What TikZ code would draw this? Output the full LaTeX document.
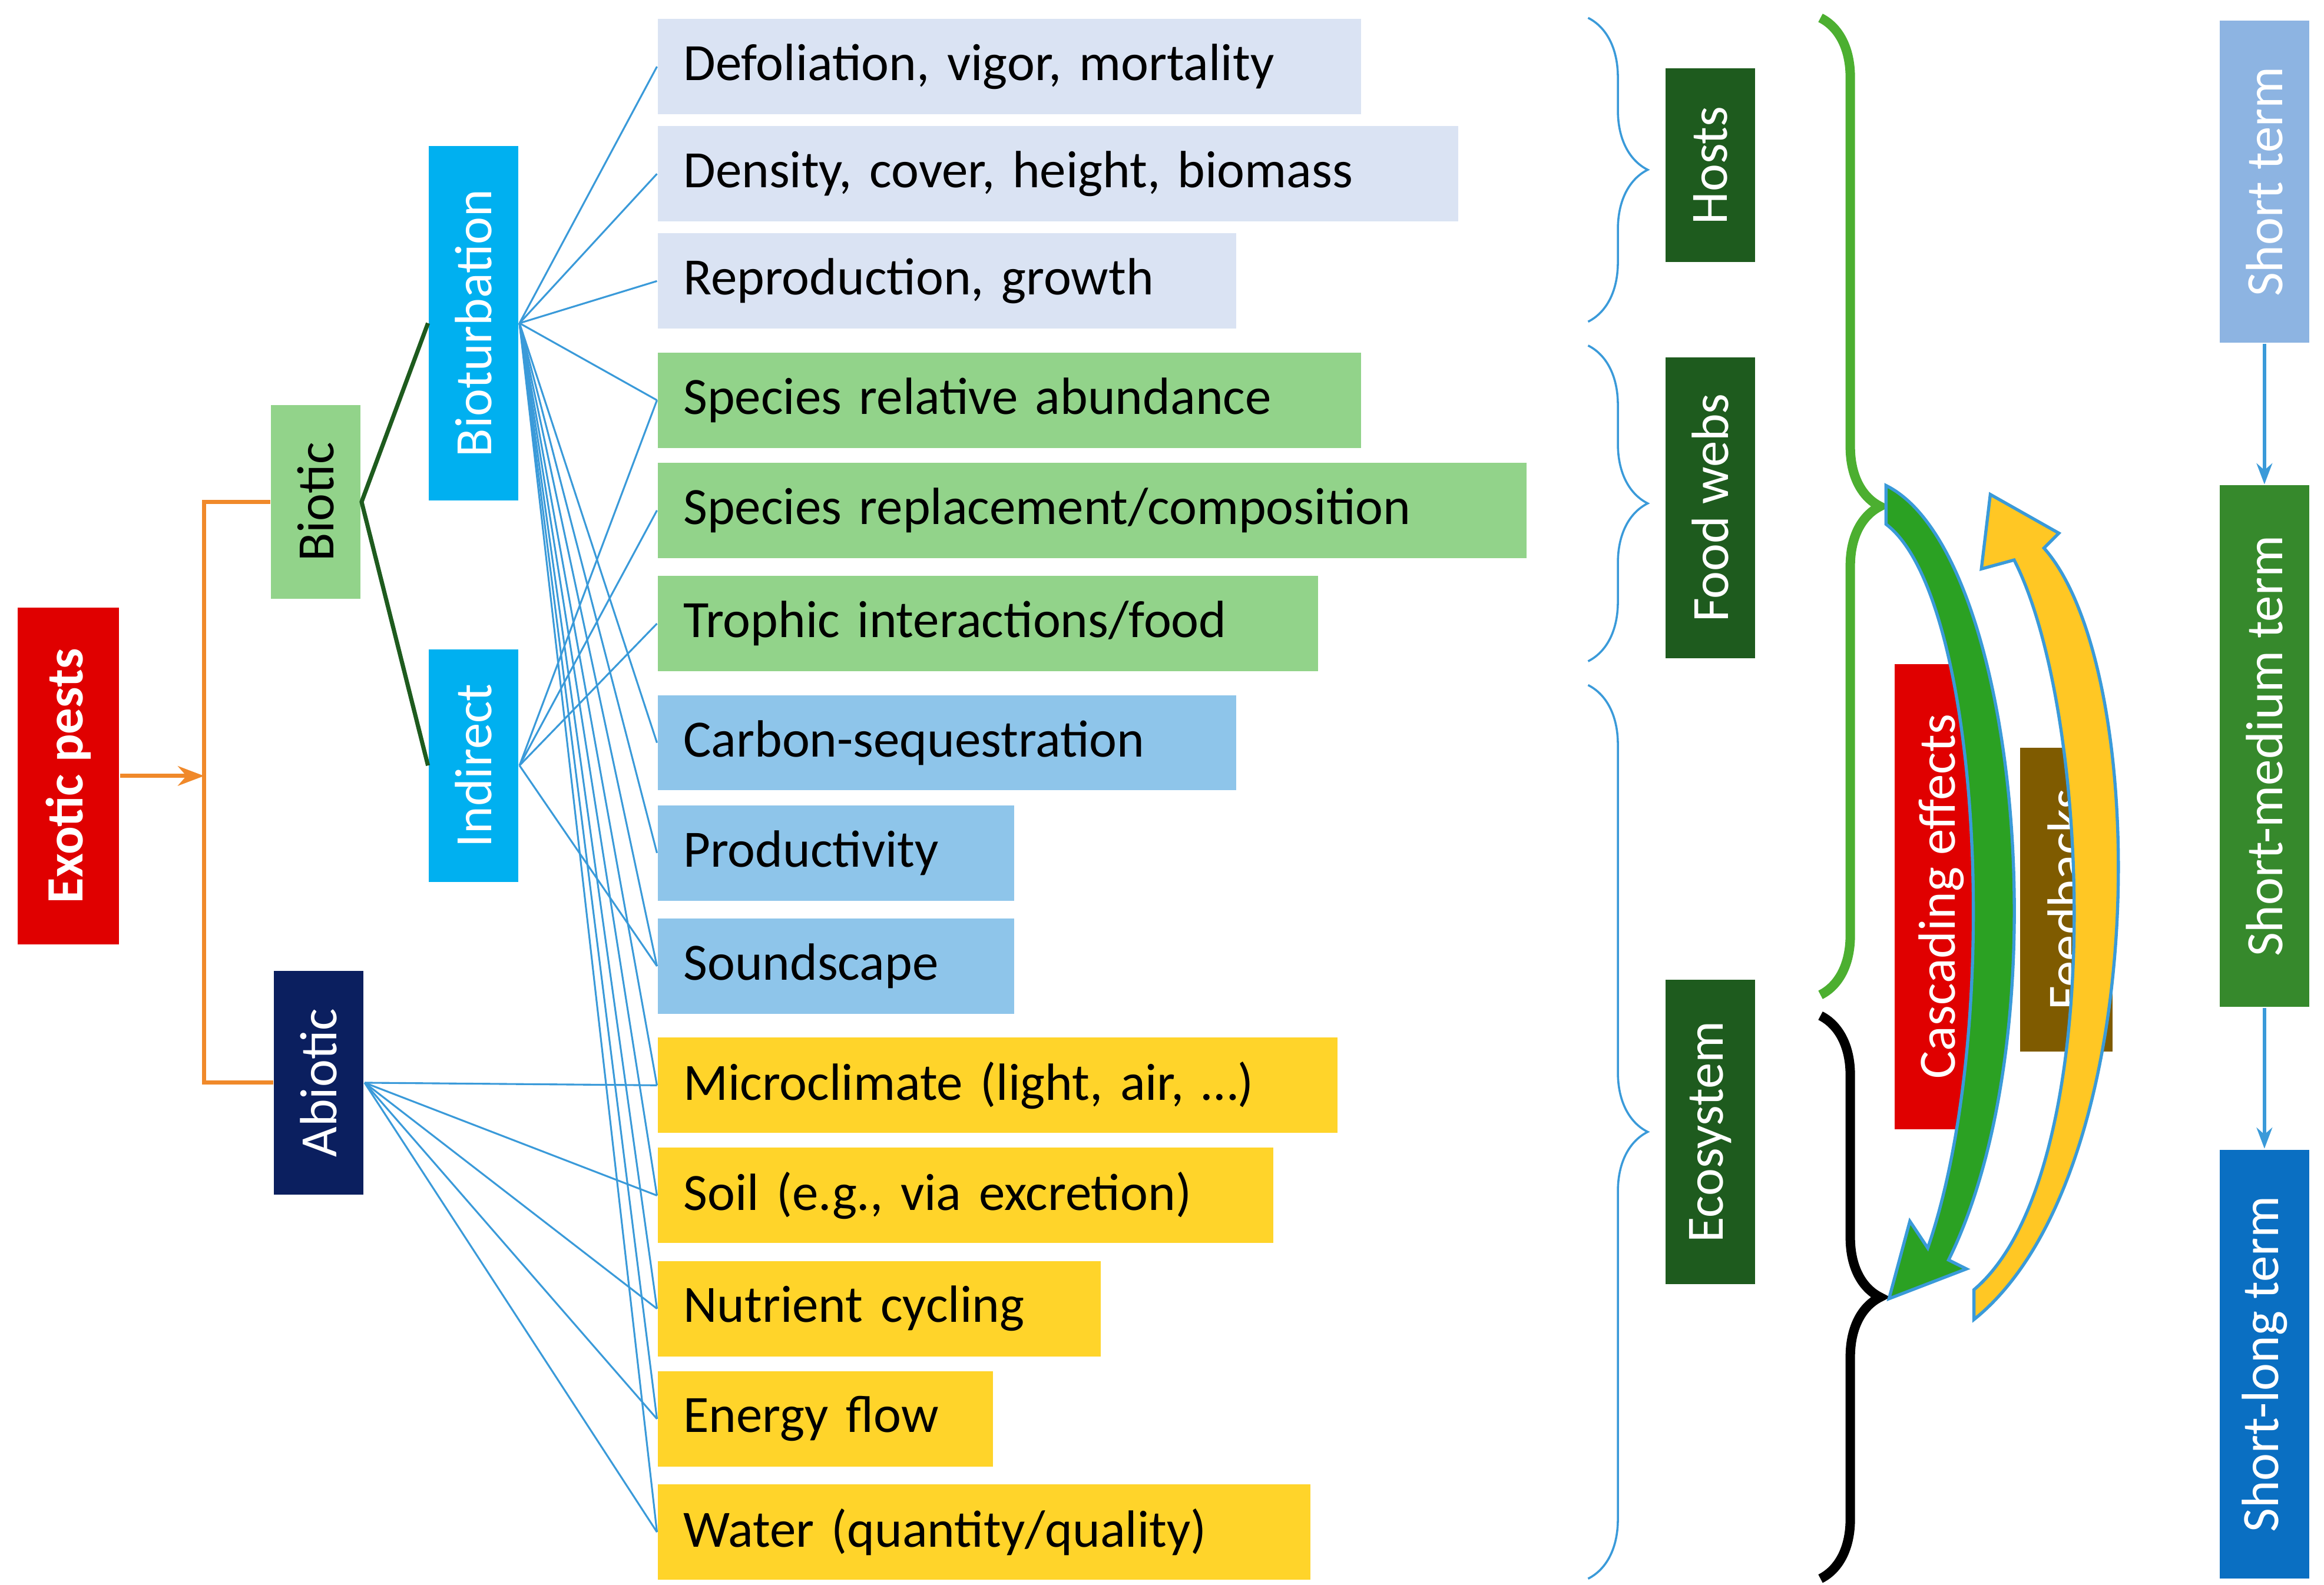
\documentclass[tikz,border=0pt]{standalone}
\usepackage{fontspec}
\setmainfont{Carlito}
\usetikzlibrary{arrows.meta,decorations.pathreplacing}
\definecolor{cLight}{HTML}{DAE3F3}
\definecolor{cGreen}{HTML}{92D38A}
\definecolor{cBlue}{HTML}{8EC5EA}
\definecolor{cYel}{HTML}{FFD42A}
\definecolor{cCyan}{HTML}{00B0F0}
\definecolor{cNavy}{HTML}{0B1F5F}
\definecolor{cRed}{HTML}{E00000}
\definecolor{cDark}{HTML}{1E5B1E}
\definecolor{cT1}{HTML}{8DB4E2}
\definecolor{cT2}{HTML}{36892C}
\definecolor{cT3}{HTML}{0A6FC2}
\definecolor{cBrown}{HTML}{7F5B00}
\definecolor{cOrange}{HTML}{F0892A}
\definecolor{cLine}{HTML}{3A9AD9}
\definecolor{cBrace}{HTML}{4CAF30}
\tikzset{
  item/.style={anchor=north west, minimum height=0.64cm, inner xsep=0.17cm,
    align=left, font=\fontsize{10}{12}\selectfont},
  vbox/.style={rotate=90, font=\fontsize{10}{12}\selectfont, inner sep=0pt},
  link/.style={cLine, line width=0.35pt},
  rbrace/.style={decorate, decoration={brace, amplitude=0.4cm}},
}
\begin{document}
\begin{tikzpicture}[x=0.01cm, y=-0.01cm]
\useasboundingbox (0,0) rectangle (1560,1064);
% left tree
\node[vbox, fill=cRed, text=white, minimum width=2.26cm, minimum height=0.68cm,
      font=\fontsize{10}{12}\selectfont\bfseries] (ex) at (46,521) {Exotic pests};
\node[vbox, fill=cGreen, minimum width=1.30cm, minimum height=0.60cm] (bt) at (212,337) {Biotic};
\node[vbox, fill=cNavy, text=white, minimum width=1.50cm, minimum height=0.60cm] (abi) at (214,727) {Abiotic};
\node[vbox, fill=cCyan, text=white, minimum width=2.38cm, minimum height=0.60cm] (bio) at (318,217) {Bioturbation};
\node[vbox, fill=cCyan, text=white, minimum width=1.56cm, minimum height=0.60cm] (ind) at (318,514) {Indirect};
% effect boxes
\foreach \n/\y/\w/\c/\t in {def/12/472/cLight/{Defoliation, vigor, mortality},
    den/84/537/cLight/{Density, cover, height, biomass},
    rep/156/388/cLight/{Reproduction, growth},
    sra/236/472/cGreen/{Species relative abundance},
    src/310/583/cGreen/{Species replacement/composition},
    tro/386/443/cGreen/{Trophic interactions/food},
    car/466/388/cBlue/{Carbon-sequestration},
    pro/540/239/cBlue/{Productivity},
    sou/616/239/cBlue/{Soundscape},
    mic/696/456/cYel/{Microclimate (light, air, \dots)},
    soi/770/413/cYel/{Soil (e.g., via excretion)},
    nut/846/297/cYel/{Nutrient cycling},
    ene/920/225/cYel/{Energy flow},
    wat/996/438/cYel/{Water (quantity/quality)}}
  \node[item, fill=\c, text width={\w*0.01cm-0.34cm}] (\n) at (441,\y) {\t};
% connectors
\coordinate (jn) at (137,521);
\draw[cOrange, line width=0.8pt] (bt.north) -| (jn) |- (abi.north);
\draw[cOrange, line width=0.8pt, -{Stealth[length=5pt]}] (ex.south) -- (jn);
\draw[cDark, line width=0.8pt] (bio.north) -- (bt.south) -- (ind.north);
\foreach \n in {def,den,rep,sra,car,pro,sou,mic,soi,nut,ene,wat}
  \draw[link] (bio.south) -- (\n.west);
\foreach \n in {sra,src,tro,sou}
  \draw[link] (ind.south) -- (\n.west);
\foreach \n in {mic,soi,nut,ene,wat}
  \draw[link] (abi.south) -- (\n.west);
% braces and groups
\draw[cLine, rbrace] (1066,12) -- (1066,216);
\draw[cLine, rbrace] (1066,232) -- (1066,444);
\draw[cLine, rbrace] (1066,460) -- (1066,1060);
\draw[cBrace, line width=1.8pt, rbrace] (1222,12) -- (1222,668);
\draw[black, line width=1.8pt, rbrace] (1222,682) -- (1222,1060);
\node[vbox, fill=cDark, text=white, minimum width=1.30cm, minimum height=0.60cm] (hos) at (1148,111) {Hosts};
\node[vbox, fill=cDark, text=white, minimum width=2.02cm, minimum height=0.60cm] (fw) at (1148,341) {Food webs};
\node[vbox, fill=cDark, text=white, minimum width=2.04cm, minimum height=0.60cm] (eco) at (1148,760) {Ecosystem};
\node[vbox, fill=cRed, text=white, minimum width=3.12cm, minimum height=0.62cm] (cas) at (1303,602) {Cascading effects};
\node[vbox, fill=cBrown, text=white, minimum width=2.04cm, minimum height=0.62cm] (fb) at (1387,604) {Feedbacks};
% curved arrows
\draw[cLine, line width=0.6pt, fill=cT2!80!green]
  (1266,326) .. controls (1355,370) and (1385,690) .. (1308,846)
  -- (1320,852) -- (1268,872) -- (1282,820) -- (1294,838)
  .. controls (1345,690) and (1330,400) .. (1266,352) -- cycle;
\draw[cLine, line width=0.6pt, fill=cYel!85!orange]
  (1325,886) .. controls (1445,790) and (1445,450) .. (1372,368)
  -- (1382,358) -- (1336,332) -- (1330,382) -- (1352,376)
  .. controls (1405,480) and (1415,790) .. (1325,866) -- cycle;
% time line
\node[vbox, fill=cT1, text=white, minimum width=2.16cm, minimum height=0.60cm] (st) at (1520,122) {Short term};
\node[vbox, fill=cT2, text=white, minimum width=3.50cm, minimum height=0.60cm] (sm) at (1520,501) {Short-medium term};
\node[vbox, fill=cT3, text=white, minimum width=2.88cm, minimum height=0.60cm] (sl) at (1520,916) {Short-long term};
\draw[cLine, line width=0.6pt, -{Stealth[length=4pt]}] (st.west) -- (sm.east);
\draw[cLine, line width=0.6pt, -{Stealth[length=4pt]}] (sm.west) -- (sl.east);
\end{tikzpicture}
\end{document}
